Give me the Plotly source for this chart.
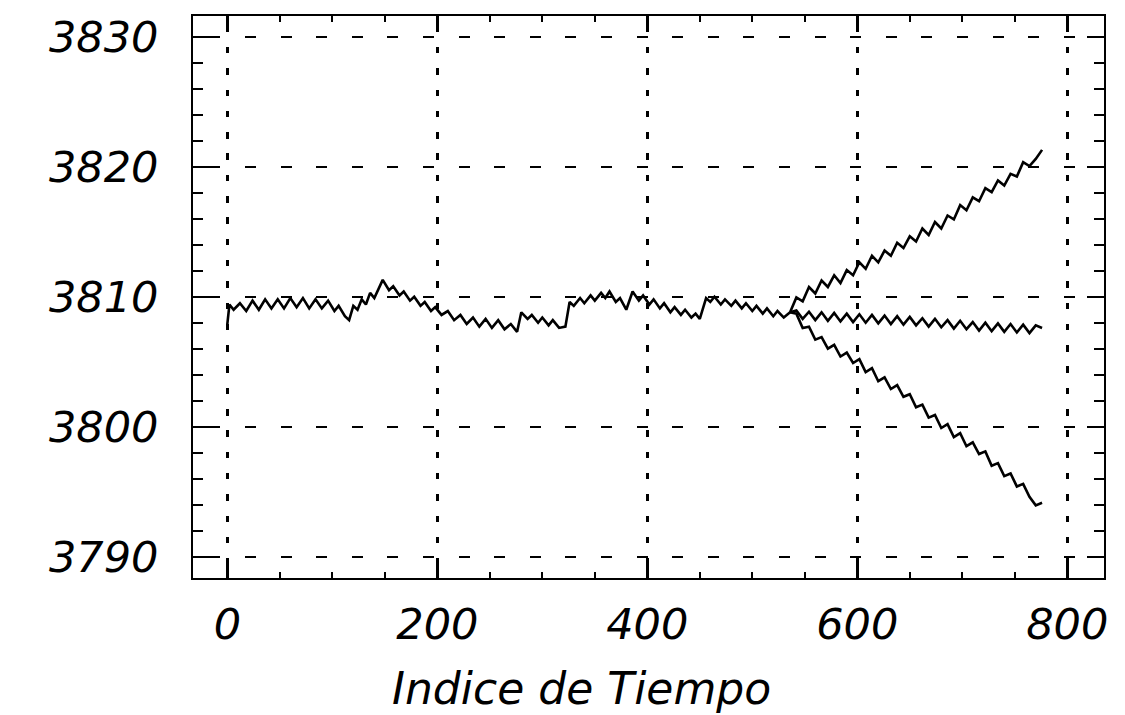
import plotly.graph_objects as go

# ---- data ----
common_x = [0, 2, 6, 12, 18, 24, 30, 36, 42, 48, 54, 60, 66, 72, 78, 84, 90, 96, 102, 106,
            112, 116, 120, 124, 128, 132, 136, 140, 148, 154, 158, 164, 168, 174, 178, 184,
            188, 194, 198, 204, 210, 216, 222, 228, 234, 240, 246, 252, 258, 264, 270, 276,
            280, 286, 290, 296, 300, 306, 310, 316, 322, 326, 330, 336, 340, 346, 350, 356,
            360, 364, 370, 374, 380, 386, 392, 396, 402, 406, 412, 416, 422, 426, 432, 436,
            442, 446, 450, 456, 460, 464, 470, 474, 480, 484, 490, 494, 500, 504, 510, 514,
            520, 524, 530, 536]
common_y = [3807.9, 3809.4, 3809.0, 3809.5, 3808.9, 3809.7, 3809.0, 3809.8, 3809.1, 3809.8,
            3809.1, 3809.9, 3809.2, 3809.9, 3809.1, 3809.8, 3809.1, 3809.7, 3808.9, 3809.3,
            3808.5, 3808.2, 3809.3, 3809.0, 3809.8, 3809.4, 3810.3, 3809.9, 3811.3, 3810.5,
            3810.8, 3810.1, 3810.4, 3809.7, 3810.0, 3809.3, 3809.6, 3808.9, 3809.2, 3808.6,
            3808.9, 3808.2, 3808.6, 3807.9, 3808.4, 3807.7, 3808.3, 3807.6, 3808.2, 3807.5,
            3807.9, 3807.3, 3808.8, 3808.3, 3808.6, 3808.0, 3808.4, 3807.8, 3808.2, 3807.6,
            3807.7, 3809.6, 3809.3, 3809.9, 3809.5, 3810.1, 3809.7, 3810.3, 3809.9, 3810.4,
            3809.6, 3809.9, 3809.0, 3810.4, 3809.7, 3810.1, 3809.4, 3809.8, 3809.1, 3809.5,
            3808.8, 3809.2, 3808.6, 3809.0, 3808.4, 3808.7, 3808.3, 3809.9, 3809.6, 3810.0,
            3809.4, 3809.8, 3809.3, 3809.7, 3809.1, 3809.5, 3808.9, 3809.3, 3808.7, 3809.1,
            3808.5, 3808.9, 3808.4, 3808.8]

branch_x = [536, 542, 548, 554, 560, 566, 572, 578, 584, 590, 596, 602, 608, 614, 620, 626,
            632, 638, 644, 650, 656, 662, 668, 674, 680, 686, 692, 698, 704, 710, 716, 722,
            728, 734, 740, 746, 752, 758, 764, 770, 776]
upper_y = [3808.8, 3809.95, 3809.65, 3810.75, 3810.25, 3811.25, 3810.75, 3811.65, 3811.05,
           3812.05, 3811.65, 3812.65, 3812.15, 3813.15, 3812.65, 3813.55, 3813.15, 3814.15,
           3813.75, 3814.65, 3814.25, 3815.25, 3814.75, 3815.75, 3815.25, 3816.25, 3815.95,
           3817.05, 3816.65, 3817.65, 3817.35, 3818.35, 3818.05, 3818.95, 3818.55, 3819.45,
           3819.25, 3820.35, 3820.05, 3820.6, 3821.3]
middle_y = [3808.8, 3808.95, 3808.3, 3808.85, 3808.2, 3808.8, 3808.15, 3808.75, 3808.1,
            3808.7, 3808.05, 3808.65, 3808.0, 3808.6, 3807.95, 3808.55, 3807.9, 3808.5,
            3807.85, 3808.45, 3807.8, 3808.35, 3807.7, 3808.3, 3807.65, 3808.2, 3807.55,
            3808.15, 3807.5, 3808.05, 3807.4, 3808.0, 3807.35, 3807.95, 3807.3, 3807.9,
            3807.25, 3807.85, 3807.2, 3807.8, 3807.6]
lower_y = [3808.8, 3808.7, 3807.6, 3807.7, 3806.7, 3806.9, 3806.0, 3806.3, 3805.4, 3805.7,
           3804.9, 3805.2, 3804.2, 3804.5, 3803.5, 3803.8, 3802.9, 3803.2, 3802.3, 3802.5,
           3801.5, 3801.7, 3800.7, 3800.9, 3799.9, 3800.2, 3799.2, 3799.5, 3798.5, 3798.8,
           3797.9, 3798.1, 3797.0, 3797.2, 3796.2, 3796.4, 3795.4, 3795.6, 3794.6, 3793.95,
           3794.15]

x_ticks = [0, 200, 400, 600, 800]
y_ticks = [3790, 3800, 3810, 3820, 3830]
x_title = "Indice de Tiempo"

# ---- figure ----
line_style = dict(color="black", width=2.6)
fig = go.Figure()
fig.add_trace(go.Scatter(x=common_x, y=common_y, mode="lines", line=line_style))
fig.add_trace(go.Scatter(x=branch_x, y=upper_y, mode="lines", line=line_style))
fig.add_trace(go.Scatter(x=branch_x, y=middle_y, mode="lines", line=line_style))
fig.add_trace(go.Scatter(x=branch_x, y=lower_y, mode="lines", line=line_style))

tick_font = dict(family="DejaVu Sans", size=43, color="black", style="italic")

fig.update_xaxes(
    range=[-32.7, 835], tickmode="array", tickvals=x_ticks, ticktext=[str(v) for v in x_ticks],
    showline=True, linecolor="black", linewidth=2, mirror="ticks",
    ticks="inside", ticklen=16, tickwidth=2.6, tickcolor="black",
    minor=dict(ticks="inside", dtick=50, tick0=0, ticklen=6, tickwidth=2, tickcolor="black",
               showgrid=False),
    showgrid=True, gridcolor="black", gridwidth=2.6, griddash="0px,9.6px,6.5px,5.2px",
    zeroline=False, tickfont=tick_font, ticklabelstandoff=7,
)
fig.update_yaxes(
    range=[3788.36, 3831.6], tickmode="array", tickvals=y_ticks, ticktext=[str(v) for v in y_ticks],
    showline=True, linecolor="black", linewidth=2, mirror="ticks",
    ticks="inside", ticklen=17, tickwidth=2, tickcolor="black",
    minor=dict(ticks="inside", dtick=2, tick0=3790, ticklen=10, tickwidth=1.6, tickcolor="black",
               showgrid=False),
    showgrid=True, gridcolor="black", gridwidth=1.8, griddash="0px,16.4px,11px,8.2px",
    zeroline=False, tickfont=tick_font, ticklabelstandoff=24,
)

fig.add_annotation(
    text=x_title, xref="paper", yref="paper", x=0.427, y=-0.196,
    xanchor="center", yanchor="middle", showarrow=False,
    font=dict(family="DejaVu Sans", size=44, color="black", style="italic"),
)

fig.update_layout(
    width=1125, height=715, showlegend=False,
    paper_bgcolor="white", plot_bgcolor="white",
    margin=dict(l=193, r=21, t=16, b=137),
)

fig.write_html("out.html")
